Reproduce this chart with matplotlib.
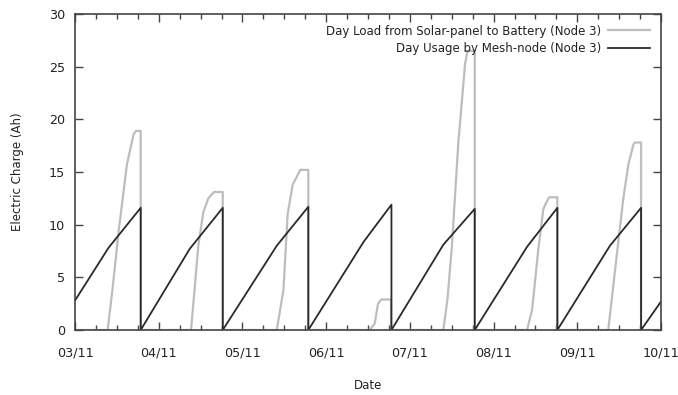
import matplotlib
matplotlib.use("Agg")
import matplotlib.pyplot as plt
from matplotlib.ticker import MultipleLocator, FixedLocator

plt.rcParams['font.family'] = ['DejaVu Sans']

# Tick labels (days)
day_labels = ["03/11", "04/11", "05/11", "06/11", "07/11", "08/11", "09/11", "10/11"]

# Solar load series (time in days since 03/11 00:00, Ah)
solar_t = [0, 0.39, 0.45, 0.52, 0.62, 0.70, 0.73, 0.785, 0.785,
           1.386, 1.43, 1.473, 1.533, 1.593, 1.66, 1.765, 1.765,
           2.41, 2.49, 2.54, 2.60, 2.64, 2.69, 2.787, 2.787,
           3.52, 3.58, 3.62, 3.66, 3.775, 3.775,
           4.40, 4.45, 4.50, 4.58, 4.66, 4.69, 4.775, 4.775,
           5.40, 5.46, 5.535, 5.595, 5.655, 5.67, 5.762, 5.762,
           6.37, 6.47, 6.55, 6.61, 6.67, 6.69, 6.762, 6.762, 7.0]
solar_v = [0, 0, 4.0, 9.3, 15.7, 18.6, 18.9, 18.9, 0,
           0, 4.0, 8.0, 11.2, 12.5, 13.1, 13.1, 0,
           0, 3.8, 11.0, 13.8, 14.4, 15.2, 15.2, 0,
           0, 0.6, 2.5, 2.9, 2.9, 0,
           0, 3.0, 7.7, 17.9, 25.3, 26.5, 26.5, 0,
           0, 1.9, 7.7, 11.5, 12.5, 12.6, 12.6, 0,
           0, 7.0, 12.5, 15.7, 17.6, 17.8, 17.8, 0, 0]

# Mesh-node usage series
usage_t = [0, 0.40, 0.785, 0.785,
           1.37, 1.765, 1.765,
           2.41, 2.787, 2.787,
           3.45, 3.78, 3.78,
           4.40, 4.775, 4.775,
           5.40, 5.762, 5.762,
           6.39, 6.762, 6.762,
           7.0]
usage_v = [2.8, 7.8, 11.6, 0,
           7.7, 11.6, 0,
           8.0, 11.7, 0,
           8.4, 11.9, 0,
           8.1, 11.5, 0,
           7.9, 11.6, 0,
           8.0, 11.6, 0,
           2.7]

fig = plt.figure(figsize=(6.78, 3.95), dpi=100)
ax = fig.add_axes([75/678, 1-330/395, (661-75)/678, (330-14)/395])

ax.plot(solar_t, solar_v, color="#bdbdbd", lw=1.6,
        label="Day Load from Solar-panel to Battery (Node 3)")
ax.plot(usage_t, usage_v, color="#2a2a2a", lw=1.3,
        label="Day Usage by Mesh-node (Node 3)")

ax.set_xlim(0, 7)
ax.set_ylim(0, 30)
ax.xaxis.set_major_locator(FixedLocator(range(len(day_labels))))
ax.set_xticklabels(day_labels)
ax.xaxis.set_minor_locator(MultipleLocator(0.25))
ax.yaxis.set_major_locator(MultipleLocator(5))

for s in ax.spines.values():
    s.set_color("#444444")
    s.set_linewidth(1.2)
ax.tick_params(which="both", direction="in", top=True, right=True,
               color="#444444", width=1.0)
ax.tick_params(which="major", length=6, labelsize=9.2, labelcolor="#222222")
ax.tick_params(axis="x", which="major", pad=12)
ax.tick_params(axis="y", which="major", pad=7)
ax.tick_params(which="minor", length=3.5)

ax.set_xlabel("Date", fontsize=8.5, labelpad=14, color="#222222")
ax.set_ylabel("Electric Charge (Ah)", fontsize=8.5, labelpad=18, color="#222222")

leg = ax.legend(loc="upper right", frameon=False, markerfirst=False,
                fontsize=8.5, handlelength=3.6, handletextpad=0.6,
                labelspacing=0.35, borderaxespad=0.5)
for t in leg.get_texts():
    t.set_color("#222222")

fig.savefig("out.png", dpi=100)
